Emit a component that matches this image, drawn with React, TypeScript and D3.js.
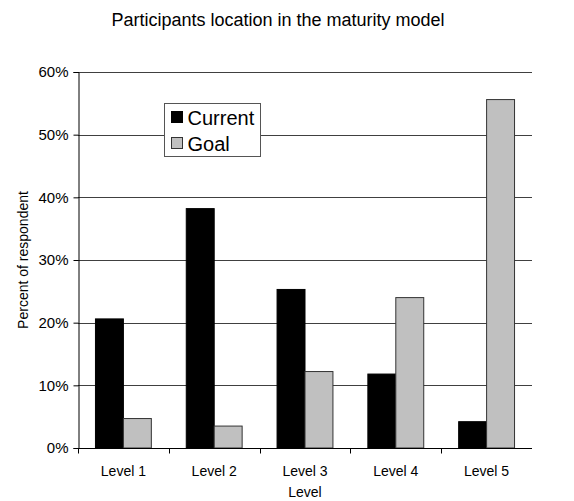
import React, { useEffect, useRef } from 'react';
import * as d3 from 'd3';

const levels = ['Level 1', 'Level 2', 'Level 3', 'Level 4', 'Level 5'];
const currentValues = [20.6, 38.2, 25.3, 11.8, 4.2];
const goalValues = [4.7, 3.5, 12.2, 24.0, 55.6];
const yTicks = [0, 10, 20, 30, 40, 50, 60];

const series = [
  { label: 'Current', values: currentValues, color: '#000000', stroke: '#000000' },
  { label: 'Goal', values: goalValues, color: '#c0c0c0', stroke: '#333333' }
];

const App = () => {
  const svgRef = useRef<SVGSVGElement>(null);
  const width = 574;
  const height = 501;

  useEffect(() => {
    const svg = d3.select(svgRef.current);
    svg.selectAll('*').remove();

    const margin = { top: 72, right: 42, bottom: 53, left: 78 };
    const chartWidth = width - margin.left - margin.right;
    const chartHeight = height - margin.top - margin.bottom;
    const font = 'Liberation Sans, Arial, sans-serif';

    const g = svg.append('g')
      .attr('transform', `translate(${margin.left}, ${margin.top})`);

    // Scales
    const xScale = d3.scaleBand<string>()
      .domain(levels)
      .range([0, chartWidth])
      .padding(0);

    const yScale = d3.scaleLinear()
      .domain([0, 60])
      .range([chartHeight, 0]);

    const barWidth = xScale.bandwidth() / 3.25;

    // Grid lines
    g.selectAll('.grid-line-y')
      .data(yTicks.filter(d => d > 0))
      .enter()
      .append('line')
      .attr('x1', 0)
      .attr('x2', chartWidth)
      .attr('y1', d => Math.round(yScale(d)) + 0.5)
      .attr('y2', d => Math.round(yScale(d)) + 0.5)
      .attr('stroke', '#404040')
      .attr('stroke-width', 1);

    // Bars
    series.forEach((s, si) => {
      g.selectAll(`.bar-${si}`)
        .data(s.values)
        .enter()
        .append('rect')
        .attr('x', (d, i) => (xScale(levels[i]) as number) + xScale.bandwidth() / 2 - barWidth + si * barWidth)
        .attr('y', d => yScale(d))
        .attr('width', barWidth)
        .attr('height', d => chartHeight - yScale(d))
        .attr('fill', s.color)
        .attr('stroke', s.stroke)
        .attr('stroke-width', 1);
    });

    // Axes
    const yAxis = d3.axisLeft(yScale)
      .tickValues(yTicks)
      .tickFormat(d => `${d}%`)
      .tickSize(5)
      .tickPadding(5);

    const yAxisG = g.append('g')
      .attr('transform', 'translate(0.5, 0)')
      .call(yAxis);
    yAxisG.select('.domain').attr('stroke', '#000');
    yAxisG.selectAll('text')
      .style('font-family', font)
      .style('font-size', '15px')
      .style('fill', '#000');

    const xAxisG = g.append('g')
      .attr('transform', `translate(0, ${chartHeight + 0.5})`);
    xAxisG.append('line')
      .attr('x1', 0)
      .attr('x2', chartWidth)
      .attr('stroke', '#000');
    xAxisG.selectAll('.x-tick')
      .data(levels)
      .enter()
      .append('line')
      .attr('x1', d => Math.round(xScale(d) as number) + 0.5)
      .attr('x2', d => Math.round(xScale(d) as number) + 0.5)
      .attr('y1', 0)
      .attr('y2', 5)
      .attr('stroke', '#000');
    xAxisG.selectAll('.x-label')
      .data(levels)
      .enter()
      .append('text')
      .attr('x', d => (xScale(d) as number) + xScale.bandwidth() / 2)
      .attr('y', 27)
      .attr('text-anchor', 'middle')
      .style('font-family', font)
      .style('font-size', '14px')
      .text(d => d);

    // Axis titles
    g.append('text')
      .attr('x', chartWidth / 2)
      .attr('y', chartHeight + 49)
      .attr('text-anchor', 'middle')
      .style('font-family', font)
      .style('font-size', '14px')
      .text('Level');

    g.append('text')
      .attr('transform', 'rotate(-90)')
      .attr('x', -chartHeight / 2)
      .attr('y', -50)
      .attr('text-anchor', 'middle')
      .style('font-family', font)
      .style('font-size', '14px')
      .text('Percent of respondent');

    // Title
    svg.append('text')
      .attr('x', 278)
      .attr('y', 26)
      .attr('text-anchor', 'middle')
      .style('font-family', font)
      .style('font-size', '18px')
      .text('Participants location in the maturity model');

    // Legend
    const legend = svg.append('g')
      .attr('transform', 'translate(164.5, 103.5)');
    legend.append('rect')
      .attr('width', 96)
      .attr('height', 53)
      .attr('fill', '#fff')
      .attr('stroke', '#555');
    const legendItems = legend.selectAll('.legend-item')
      .data(series)
      .enter()
      .append('g')
      .attr('transform', (d, i) => `translate(7, ${8 + i * 26})`);
    legendItems.append('rect')
      .attr('width', 11)
      .attr('height', 11)
      .attr('fill', d => d.color)
      .attr('stroke', d => d.stroke);
    legendItems.append('text')
      .attr('x', 16)
      .attr('y', 6)
      .attr('dy', '0.35em')
      .style('font-family', font)
      .style('font-size', '20px')
      .text(d => d.label);
  }, []);

  return (
    <svg
      ref={svgRef}
      width={width}
      height={height}
      style={{ position: 'absolute', left: 0, top: 0, background: '#fff' }}
    />
  );
};

export default App;
